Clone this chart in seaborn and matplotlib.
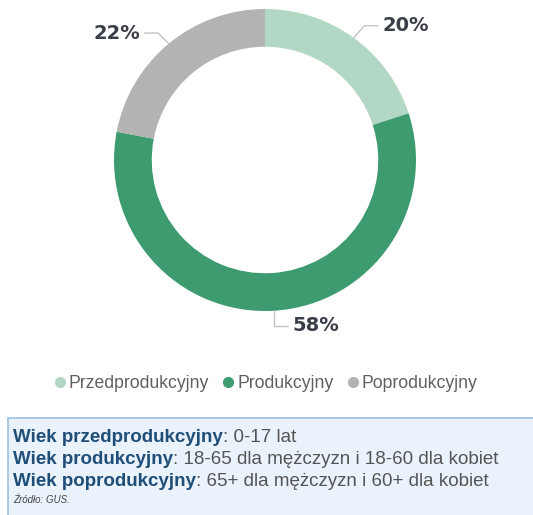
import numpy as np
import matplotlib
matplotlib.use("Agg")
import matplotlib.pyplot as plt
from matplotlib.lines import Line2D
from matplotlib.patches import Rectangle
from matplotlib.offsetbox import TextArea, HPacker, VPacker, AnchoredOffsetbox
import seaborn as sns

# data
categories = ["Przedprodukcyjny", "Produkcyjny", "Poprodukcyjny"]
shares = [20, 58, 22]
colors = ["#b2d8c5", "#3d9b6f", "#b3b3b3"]

notes_bold = ["Wiek przedprodukcyjny", "Wiek produkcyjny", "Wiek poprodukcyjny"]
notes_text = [": 0-17 lat",
              ": 18-65 dla mężczyzn i 18-60 dla kobiet",
              ": 65+ dla mężczyzn i 60+ dla kobiet"]
source = "Źródło: GUS."

sns.set_theme(style="white")
plt.rcParams["font.family"] = ["Liberation Sans", "DejaVu Sans"]

W, H = 533, 515
fig = plt.figure(figsize=(W / 100, H / 100), dpi=100)

# donut
cx, cy, r = 265, 160, 151
ax = fig.add_axes([(cx - r) / W, (H - cy - r) / H, 2 * r / W, 2 * r / H])
wedges, _ = ax.pie(shares, colors=colors, startangle=90, counterclock=False,
                   radius=1.0, wedgeprops=dict(width=0.25, linewidth=0))
ax.set_xlim(-1, 1)
ax.set_ylim(-1, 1)
ax.set_aspect("equal")
ax.axis("off")

# labels with leader lines
offsets = {0: (0.07, 0.08, 0.09), 1: (0.0, -0.1, 0.09), 2: (-0.07, 0.07, -0.09)}
for i, w in enumerate(wedges):
    ang = np.deg2rad((w.theta1 + w.theta2) / 2)
    x0, y0 = np.cos(ang), np.sin(ang)
    dx, dy, hx = offsets[i]
    x1, y1 = x0 + dx, y0 + dy
    x2 = x1 + hx
    ax.plot([x0, x1, x2], [y0, y1, y1], color="#c4c4c4", lw=1, clip_on=False)
    ha = "left" if hx > 0 else "right"
    ax.text(x2 + (0.03 if hx > 0 else -0.03), y1, f"{shares[i]}%", ha=ha, va="center",
            fontsize=14, fontweight="bold", color="#3a3e48",
            family=["DejaVu Sans"])

# legend
handles = [Line2D([], [], marker="o", ls="", markersize=7, color=c) for c in colors]
fig.legend(handles, categories, loc="center", bbox_to_anchor=(265 / W, 1 - 384 / H),
           ncol=3, frameon=False, fontsize=12.7, handletextpad=0.1,
           columnspacing=0.7, labelcolor="#606060", handlelength=0.8)

# notes box
fig.patches.append(Rectangle((8 / W, -0.02), 1, 1.02 - 418 / H, transform=fig.transFigure,
                             facecolor="#eaf2fb", edgecolor="#9dbfe0", lw=1.2))
rows = []
for b, t in zip(notes_bold, notes_text):
    rows.append(HPacker(children=[
        TextArea(b, textprops=dict(fontsize=13.5, fontweight="bold", color="#1f4e79")),
        TextArea(t, textprops=dict(fontsize=13.5, color="#555555"))],
        pad=0, sep=0))
rows.append(TextArea(source, textprops=dict(fontsize=7, style="italic", color="#444444")))
box = VPacker(children=rows, pad=0, sep=3.5, align="left")
anch = AnchoredOffsetbox(loc="upper left", child=box, frameon=False, pad=0,
                         bbox_to_anchor=(13 / W, 1 - 429 / H),
                         bbox_transform=fig.transFigure, borderpad=0)
fig.add_artist(anch)

fig.savefig("out.png", dpi=100)
